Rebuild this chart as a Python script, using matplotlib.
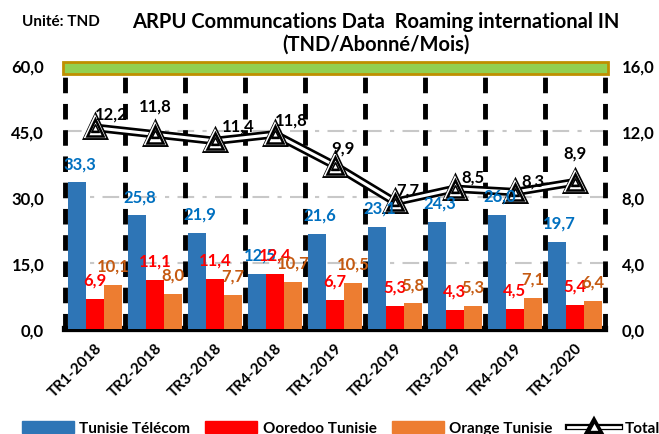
import matplotlib
matplotlib.use("Agg")
import matplotlib.pyplot as plt
import matplotlib.patheffects as pe
from matplotlib.patches import Rectangle, Patch
from matplotlib.lines import Line2D
import numpy as np

plt.rcParams['font.family'] = ['Lato', 'DejaVu Sans']
plt.rcParams['font.weight'] = 'bold'

# ── data ─────────────────────────────────────────
quarters = ['TR1-2018', 'TR2-2018', 'TR3-2018', 'TR4-2018', 'TR1-2019',
            'TR2-2019', 'TR3-2019', 'TR4-2019', 'TR1-2020']
tunisie_telecom = [33.3, 25.8, 21.9, 12.5, 21.6, 23.1, 24.3, 26.0, 19.7]
ooredoo = [6.9, 11.1, 11.4, 12.4, 6.7, 5.3, 4.3, 4.5, 5.4]
orange = [10.1, 8.0, 7.7, 10.7, 10.5, 5.8, 5.3, 7.1, 6.4]
total = [12.2, 11.8, 11.4, 11.8, 9.9, 7.7, 8.5, 8.3, 8.9]

# label offsets (points) for the Total series
total_offsets = [(12, 10), (0, 21), (17, 11), (12, 11), (6, 13),
                 (9, 9), (13, 9), (13, 8), (0, 21)]


def fmt(v):
    return f"{v:.1f}".replace('.', ',')


fig = plt.figure(figsize=(6.59, 4.35), dpi=100)
ax = fig.add_axes([65/659, 1-330/435, 540/659, 264/435])
ax2 = ax.twinx()

x = np.arange(len(quarters))
w = 0.3
c_blue, c_red, c_orange = '#2E75B6', '#FF0000', '#ED7D31'

ax.bar(x - w, tunisie_telecom, w, color=c_blue, zorder=3)
ax.bar(x, ooredoo, w, color=c_red, zorder=3)
ax.bar(x + w, orange, w, color=c_orange, zorder=3)

ax.set_xlim(-0.5, len(quarters) - 0.5)
ax.set_ylim(0, 60)
ax.set_yticks([0, 15, 30, 45, 60])
ax.set_yticklabels([fmt(v) for v in [0, 15, 30, 45, 60]], fontsize=12, fontweight='bold')
ax.set_xticks(x)
ax.set_xticklabels(quarters, rotation=45, ha='right', rotation_mode='anchor',
                   fontsize=11, fontweight='bold')
ax.tick_params(axis='x', length=0, pad=8)
ax.tick_params(axis='y', length=0, pad=15)

for yv in [15, 30, 45]:
    ax.axhline(yv, color='#C8C8C8', lw=1.5, ls=(0, (8, 4, 2, 4)), zorder=1)
for b in np.arange(-0.5, len(quarters), 1.0):
    ax.plot([b, b], [0, 57.5], color='black', lw=3.5, ls=(0, (3.2, 2.2)), zorder=2,
            clip_on=False)

for s in ['top', 'left', 'right']:
    ax.spines[s].set_visible(False)
    ax2.spines[s].set_visible(False)
ax.spines['bottom'].set_linewidth(4.5)
ax2.spines['bottom'].set_visible(False)

# green band on top
ax.add_patch(Rectangle((-0.003, 58.0 / 60), 1.008, 2.7 / 60,
                       transform=ax.transAxes, facecolor='#92D050', edgecolor='#BF8F00',
                       lw=2, clip_on=False, zorder=5))

# total line on right axis
ax2.set_ylim(0, 16)
ax2.set_yticks([0, 4, 8, 12, 16])
ax2.set_yticklabels([fmt(v) for v in [0, 4, 8, 12, 16]], fontsize=12, fontweight='bold')
ax2.tick_params(axis='y', length=0, pad=12)
ax2.plot(x, total, color='white', lw=2.2, zorder=4,
         path_effects=[pe.Stroke(linewidth=6, foreground='black'), pe.Normal()])
ax2.plot(x, total, ls='none', marker='^', ms=12, mfc='white', mec='black', mew=1.8,
         zorder=5, path_effects=[pe.Stroke(linewidth=5, foreground='black'),
                                 pe.Stroke(linewidth=3, foreground='white'), pe.Normal()])
ax2.plot(x, total, ls='none', marker='^', ms=5.5, mfc='black', mec='black', zorder=6)
ax2.plot(x, total, ls='none', marker='^', ms=3, mfc='white', mec='white', mew=0, zorder=7)

# data labels drawn on top of everything
lab_font = dict(fontsize=12, fontweight='bold', ha='center', va='center', zorder=9)
for i in range(len(quarters)):
    ax2.annotate(fmt(tunisie_telecom[i]), (x[i] - w, tunisie_telecom[i]), xycoords=ax.transData,
                 xytext=(2, 14), textcoords='offset points', color='#0070C0', **lab_font)
    ax2.annotate(fmt(ooredoo[i]), (x[i], ooredoo[i]), xycoords=ax.transData,
                 xytext=(0, 14), textcoords='offset points', color='#FF0000', **lab_font)
    ax2.annotate(fmt(orange[i]), (x[i] + w, orange[i]), xycoords=ax.transData,
                 xytext=(0, 14), textcoords='offset points', color='#C55A11', **lab_font)
for i, v in enumerate(total):
    ax2.annotate(fmt(v), (x[i], v), xytext=total_offsets[i],
                 textcoords='offset points', color='black', **lab_font)

# titles
fig.text(22/659, 1-22/435, 'Unité: TND', fontsize=11, fontweight='bold', va='center')
fig.text(376/659, 1-22/435, 'ARPU Communcations Data  Roaming international IN',
         fontsize=14.5, fontweight='bold', ha='center', va='center')
fig.text(376/659, 1-45/435, '(TND/Abonné/Mois)', fontsize=14.5, fontweight='bold',
         ha='center', va='center')

# legend
handles = [Patch(color=c_blue), Patch(color=c_red), Patch(color=c_orange),
           Line2D([], [], color='white', lw=2, marker='^', ms=7, mfc='white', mec='black',
                  path_effects=[pe.Stroke(linewidth=4.5, foreground='black'), pe.Normal()])]
fig.legend(handles, ['Tunisie Télécom', 'Ooredoo Tunisie', 'Orange Tunisie', 'Total'],
           loc='center', bbox_to_anchor=(341/659, 6/435), ncol=4, frameon=False,
           prop={'size': 11, 'weight': 'bold'}, handlelength=3.4, handleheight=0.8,
           columnspacing=1.0, handletextpad=0.35, borderpad=0.1)

plt.savefig('out.png', dpi=100)
